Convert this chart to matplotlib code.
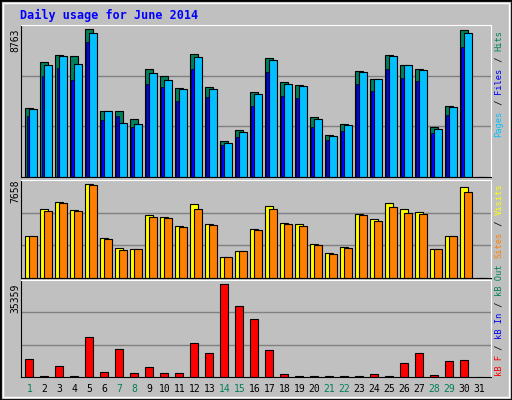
import matplotlib
matplotlib.use("Agg")
import matplotlib.pyplot as plt
from matplotlib.patches import Rectangle

days = list(range(1, 32))
hits = [4124, 6821, 7217, 7158, 8763, 3946, 3946, 3430, 6385, 5968, 5254, 7277, 5314, 2161, 2815,
        5016, 7039, 5611, 5433, 3589, 2518, 3172, 6265, 5789, 7217, 6622, 6385, 2994, 4243, 8704, 0]
files = [4064, 6622, 7158, 6682, 8525, 3946, 3232, 3172, 6146, 5730, 5195, 7098, 5195, 2042, 2696,
         4897, 6919, 5492, 5373, 3470, 2458, 3113, 6206, 5789, 7158, 6622, 6325, 2875, 4183, 8525, 0]
pages = [3648, 5968, 6443, 5730, 7990, 3410, 3648, 2994, 5492, 5313, 4481, 6384, 4719, 1923, 2399,
         4243, 6206, 4778, 4659, 2994, 2221, 2756, 5492, 5075, 6384, 5849, 5670, 2637, 3708, 7692, 0]
visits = [3428, 5668, 6249, 5585, 7658, 3262, 2433, 2350, 5170, 5004, 4258, 6083, 4424, 1687, 2184,
          4009, 5917, 4507, 4424, 2765, 2018, 2516, 5253, 4838, 6165, 5668, 5419, 2350, 3428, 7410, 0]
sites = [3428, 5502, 6165, 5502, 7576, 3180, 2267, 2350, 5004, 4921, 4175, 5668, 4341, 1687, 2184,
         3926, 5668, 4424, 4258, 2682, 1935, 2433, 5170, 4673, 5834, 5336, 5253, 2350, 3428, 6995, 0]
kbytes = [6711, 350, 4388, 350, 15228, 2065, 10582, 1678, 4001, 1678, 1678, 12905, 9034, 35359, 27230,
          22197, 10195, 1291, 350, 350, 350, 350, 350, 1291, 350, 5162, 9034, 903, 5936, 6323, 0]
weekend = [1, 7, 8, 14, 15, 21, 22, 28, 29]

W, H = 512, 400
BG = "#C0C0C0"
mono = "DejaVu Sans Mono"
fig = plt.figure(figsize=(W / 100, H / 100), dpi=100, facecolor=BG)
fig.patches.append(Rectangle((0, 0), 1, 1, transform=fig.transFigure, fill=False,
                             edgecolor="black", lw=2))
fig.patches.append(Rectangle((3 / W, 3 / H), 1 - 6 / W, 1 - 6 / H, transform=fig.transFigure,
                             fill=False, edgecolor="white", lw=1))


def panel(top, bottom, ymax):
    ax = fig.add_axes([21 / W, 1 - bottom / H, 470 / W, (bottom - top) / H])
    ax.set_facecolor(BG)
    ax.set_xlim(0.433, 31.77)
    ax.set_ylim(0, ymax)
    for s in ["left", "bottom"]:
        ax.spines[s].set_color("black")
    for s in ["top", "right"]:
        ax.spines[s].set_color("white")
    for f in (1 / 3, 2 / 3):
        ax.axhline(ymax * f, color="#808080", lw=1, zorder=0)
    ax.set_xticks([])
    ax.set_yticks([])
    return ax


def side_label(x, y0, parts):
    # stacked rotated text, reading bottom to top
    pos = y0
    for txt, col in parts:
        fig.text(x / W, 1 - pos / H, txt, rotation=90, color=col, fontsize=6.3,
                 family=mono, ha="center", va="bottom")
        pos -= len(txt) * 5.35


ek = dict(edgecolor="black", linewidth=0.8, align="edge")

ax1 = panel(25, 177, 8763 * 455 / 442)
ax1.bar([d - 0.3 for d in days], hits, width=0.55, color="#00805C", **ek)
ax1.bar([d - 0.03 for d in days], files, width=0.5, color="#00C0FF", **ek)
ax1.bar([d - 0.2 for d in days], pages, width=0.17, color="#0000FF", edgecolor="black",
        linewidth=0.5, align="edge")

ax2 = panel(180, 278, 7658 * 290 / 277)
ax2.bar([d - 0.3 for d in days], visits, width=0.55, color="#FFFF00", **ek)
ax2.bar([d - 0.03 for d in days], sites, width=0.5, color="#FF8000", **ek)

ax3 = panel(280, 377, 35359 * 287 / 274)
ax3.bar([d - 0.3 for d in days], kbytes, width=0.55, color="#FF0000", **ek)

for d in days:
    ax3.text(d, -0.12, str(d), transform=ax3.get_xaxis_transform(), ha="center", va="center",
             fontsize=7, family=mono, color="#00805C" if d in weekend else "black")

fig.text(20 / W, 1 - 15 / H, "Daily usage for June 2014", color="#0000FF", fontsize=8.5,
         family=mono, weight="bold", va="center")
fig.text(15 / W, 1 - 29 / H, "8763", rotation=90, fontsize=7, family=mono, ha="center", va="top")
fig.text(15 / W, 1 - 180 / H, "7658", rotation=90, fontsize=7, family=mono, ha="center", va="top")
fig.text(15 / W, 1 - 284 / H, "35359", rotation=90, fontsize=7, family=mono, ha="center", va="top")

side_label(499, 137, [("Pages", "#00C0FF"), (" / ", "black"), ("Files", "#0000FF"),
                      (" / ", "black"), ("Hits", "#00805C")])
side_label(499, 258, [("Sites", "#FF8000"), (" / ", "black"), ("Visits", "#FFFF00")])
side_label(499, 376, [("kB F", "#FF0000"), (" / ", "black"), ("kB In", "#0000FF"),
                      (" / ", "black"), ("kB Out", "#00805C")])

fig.savefig("out.png", dpi=100, facecolor=BG)
